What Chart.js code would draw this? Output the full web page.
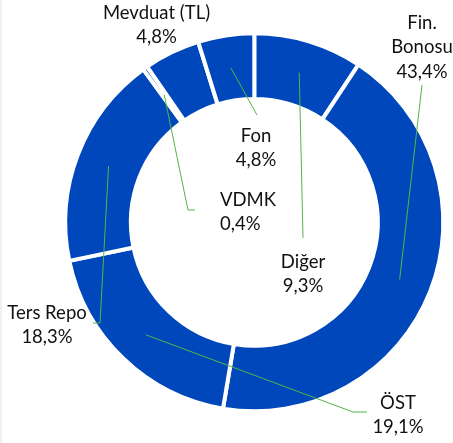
<!DOCTYPE html>
<html><head><meta charset="utf-8">
<script src="https://cdn.jsdelivr.net/npm/chart.js@4"></script>
<style>
html,body{margin:0;padding:0;background:#fff;overflow:hidden}
#wrap{position:relative;width:453px;height:443px}
#edge{position:absolute;left:0;top:0;width:2px;height:443px;background:#f0f0f0}
canvas{display:block}
</style></head>
<body><div id="wrap"><canvas id="c" width="453" height="443"></canvas><div id="edge"></div></div>
<script>
// ---- data ----
const categories = ['Diğer', 'Fin. Bonosu', 'ÖST', 'Ters Repo', 'VDMK', 'Mevduat (TL)', 'Fon'];
const shares = [9.3, 43.4, 19.1, 18.3, 0.4, 4.8, 4.8];
const labelNames = [['Diğer'], ['Fin.', 'Bonosu'], ['ÖST'], ['Ters Repo'], ['VDMK'], ['Mevduat (TL)'], ['Fon']];

// ---- label layout (offsets from ring centre, px) ----
const labelLayout = [
  {dx: 48.7,  dy: 39.7,   align: 'center', path: [[48.7, 15.7]]},
  {dx: 167.7, dy: -199.3, align: 'center', path: [[167.7, -137.3]]},
  {dx: 143.7, dy: 180.7,  align: 'center', path: [[98.7, 189.7], [112.7, 189.7]]},
  {dx: -207.3,dy: 90.7,   align: 'center', path: [[-154.3, 100.7], [-161.3, 100.7]]},
  {dx: -34.3, dy: -22.3,  align: 'left',   path: [[-66.3, -12.3], [-59.3, -12.3]]},
  {dx: -97.8, dy: -209.3, align: 'center', path: []},
  {dx: 1.7,   dy: -86.3,  align: 'center', path: [[2.7, -107.3]]}
];
const LINE_H = 24.5;
const fmtPct = v => v.toFixed(1).replace('.', ',') + '%';

const labelPlugin = {
  id: 'leaderLabels',
  afterDatasetsDraw(chart) {
    const ctx = chart.ctx;
    const meta = chart.getDatasetMeta(0);
    ctx.save();
    meta.data.forEach((arc, i) => {
      const lay = labelLayout[i];
      const cx = arc.x, cy = arc.y;
      const start = arc.getCenterPoint();
      if (lay.path.length) {
        ctx.beginPath();
        ctx.strokeStyle = '#55B447';
        ctx.lineWidth = 1;
        ctx.moveTo(start.x, start.y);
        lay.path.forEach(p => ctx.lineTo(cx + p[0], cy + p[1]));
        ctx.stroke();
      }
      const lines = labelNames[i].concat([fmtPct(shares[i])]);
      ctx.font = '18.5px Lato';
      ctx.fillStyle = '#111';
      ctx.textAlign = lay.align;
      ctx.textBaseline = 'middle';
      lines.forEach((t, k) => {
        ctx.fillText(t, cx + lay.dx, cy + lay.dy + k * LINE_H);
      });
    });
    ctx.restore();
  }
};

function draw() {
  new Chart(document.getElementById('c'), {
    type: 'doughnut',
    data: {
      labels: categories,
      datasets: [{
        data: shares,
        backgroundColor: '#0047BB',
        borderColor: '#ffffff',
        borderWidth: 4,
        hoverOffset: 0
      }]
    },
    options: {
      responsive: false,
      animation: false,
      cutout: '65.3%',
      rotation: 0,
      layout: {padding: {left: 63.3, right: 7.7, top: 31.3, bottom: 29.7}},
      plugins: {legend: {display: false}, tooltip: {enabled: false}}
    },
    plugins: [labelPlugin]
  });
}
if (document.fonts && document.fonts.load) {
  document.fonts.load('18.5px Lato').then(draw, draw);
} else { draw(); }
</script>
</body></html>
